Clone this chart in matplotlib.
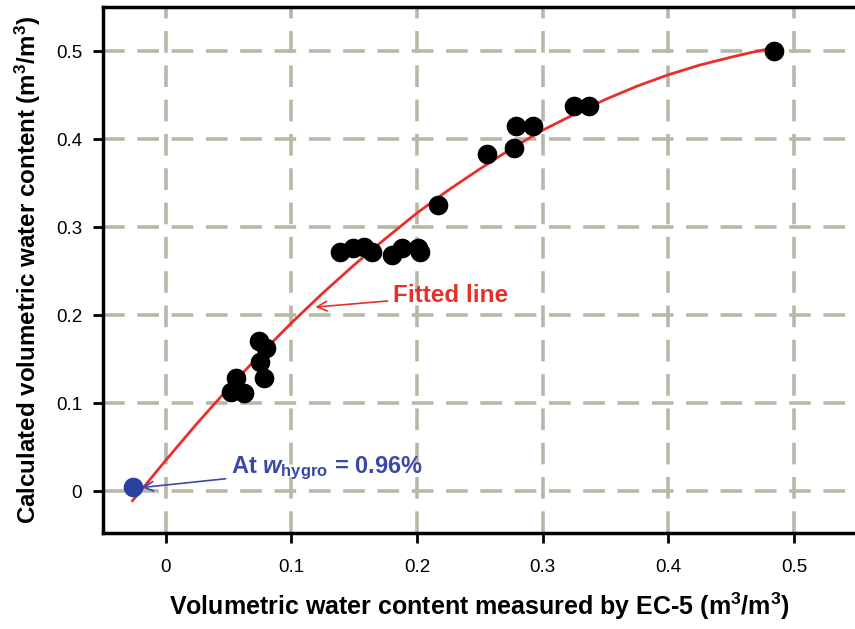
import matplotlib
matplotlib.use("Agg")
import matplotlib.pyplot as plt

# Data
ec5_vwc = [0.052, 0.056, 0.062, 0.074, 0.075, 0.078, 0.080,
           0.139, 0.149, 0.158, 0.164, 0.180, 0.188, 0.201, 0.202,
           0.217, 0.256, 0.277, 0.279, 0.292, 0.325, 0.337, 0.484]
calc_vwc = [0.113, 0.128, 0.111, 0.170, 0.147, 0.128, 0.162,
            0.272, 0.276, 0.277, 0.272, 0.268, 0.276, 0.276, 0.272,
            0.325, 0.383, 0.390, 0.415, 0.415, 0.437, 0.437, 0.500]

hygro_x = [-0.0265]
hygro_y = [0.005]

# fitted curve, points
fit_x = [-0.0265, 0.0, 0.025, 0.05, 0.075, 0.1, 0.125, 0.15, 0.175, 0.2,
         0.225, 0.25, 0.275, 0.3, 0.325, 0.35, 0.375, 0.4, 0.425, 0.45,
         0.465, 0.475, 0.485]
fit_y = [-0.011, 0.035, 0.077, 0.117, 0.155, 0.191, 0.225, 0.257, 0.287, 0.316,
         0.342, 0.366, 0.389, 0.410, 0.428, 0.445, 0.460, 0.473, 0.484, 0.493,
         0.498, 0.501, 0.503]

xticks = [0, 0.1, 0.2, 0.3, 0.4, 0.5]
yticks = [0, 0.1, 0.2, 0.3, 0.4, 0.5]
tick_labels = ['0', '0.1', '0.2', '0.3', '0.4', '0.5']

plt.rcParams['font.family'] = ['Liberation Sans', 'DejaVu Sans']
plt.rcParams['mathtext.fontset'] = 'custom'
plt.rcParams['mathtext.rm'] = 'Liberation Sans:bold'
plt.rcParams['mathtext.bf'] = 'Liberation Sans:bold'
plt.rcParams['mathtext.it'] = 'Liberation Sans:bold:italic'

fig = plt.figure(figsize=(8.55, 6.29), dpi=100)
ax = fig.add_axes([103 / 855, 1 - 533 / 629, 1 - 103 / 855, (533 - 7) / 629])

ax.set_xlim(-0.05, 0.5486)
ax.set_ylim(-0.0477, 0.55)

grid_col = '#b9b8a8'
for v in xticks:
    ax.axvline(v, color=grid_col, lw=2.6, dashes=(6, 3.5), zorder=1)
for v in yticks:
    ax.axhline(v, color=grid_col, lw=2.6, dashes=(6, 3.5), zorder=1)

ax.plot(fit_x, fit_y, color='#e8302a', lw=2, zorder=2)
ax.scatter(ec5_vwc, calc_vwc, s=200, color='black', zorder=3, linewidths=0)
ax.scatter(hygro_x, hygro_y, s=200, color='#2b3f9e', zorder=3, linewidths=0)

ax.annotate('Fitted line', xy=(0.119, 0.209), xytext=(0.181, 0.222),
            color='#e8302a', fontsize=17.5, fontweight='bold', va='center',
            arrowprops=dict(arrowstyle='->', color='#e8302a', lw=1.2,
                            shrinkA=2, shrinkB=0))
ax.annotate(r'At $\mathit{w}_{\mathbf{hygro}}$ = 0.96%', xy=(-0.019, 0.004),
            xytext=(0.052, 0.026),
            color='#3a48a8', fontsize=17, fontweight='bold', va='center',
            arrowprops=dict(arrowstyle='->', color='#3a48a8', lw=1.2,
                            shrinkA=2, shrinkB=0))

ax.set_xticks(xticks)
ax.set_xticklabels(tick_labels, fontsize=13.5)
ax.set_yticks(yticks)
ax.set_yticklabels(tick_labels, fontsize=13.5)
ax.tick_params(direction='out', length=7, width=2, pad=12)
ax.tick_params(axis='y', pad=8)

for side in ['left', 'bottom', 'top']:
    ax.spines[side].set_linewidth(2.5)
ax.spines['right'].set_visible(False)

ax.set_xlabel(r'Volumetric water content measured by EC-5 (m$^3$/m$^3$)',
              fontsize=18, fontweight='bold', labelpad=10)
ax.set_ylabel(r'Calculated volumetric water content (m$^3$/m$^3$)',
              fontsize=17.4, fontweight='bold', labelpad=9)

fig.savefig('out.png', dpi=100)
